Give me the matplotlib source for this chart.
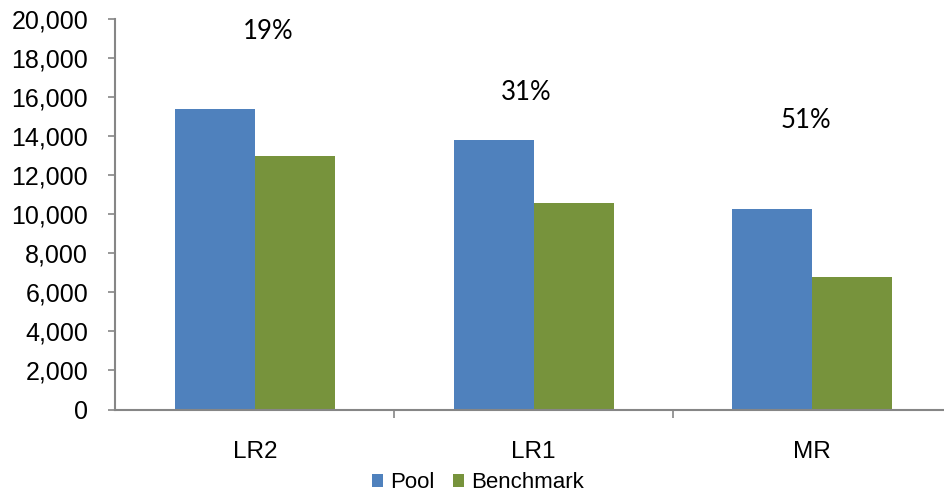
import matplotlib
matplotlib.use("Agg")
import matplotlib.pyplot as plt
import numpy as np
from matplotlib.patches import Patch

categories = ["LR2", "LR1", "MR"]
pool = [15400, 13780, 10290]
benchmark = [12960, 10600, 6800]
pct_labels = ["19%", "31%", "51%"]
pct_label_x = [0.046, 0.972, 1.977]
pct_label_y = [19360, 16260, 14780]
y_ticks = list(range(0, 20001, 2000))

BLUE = "#4F81BD"
GREEN = "#77933C"
AXIS = "#868686"

fig = plt.figure(figsize=(9.44, 4.95), dpi=100)
ax = fig.add_axes([114.5 / 944, (495 - 409.5) / 495, 1 - 114.5 / 944, (409.5 - 19) / 495])

x = np.arange(len(categories))
w = 80 / 278.5
ax.bar(x - w / 2, pool, width=w, color=BLUE, edgecolor="none", label="Pool")
ax.bar(x + w / 2, benchmark, width=w, color=GREEN, edgecolor="none", label="Benchmark")

ax.set_xlim(-0.505, 2.474)
ax.set_ylim(0, 20000)

for s in ["top", "right"]:
    ax.spines[s].set_visible(False)
for s in ["left", "bottom"]:
    ax.spines[s].set_color(AXIS)
    ax.spines[s].set_linewidth(1.5)

ax.set_yticks(y_ticks)
ax.set_yticklabels([f"{v:,}" for v in y_ticks], fontfamily="Liberation Sans", fontsize=18)
ax.tick_params(axis="y", direction="out", length=5, width=1.2, color=AXIS, pad=14)

ax.set_xticks(x)
ax.set_xticklabels(categories, fontfamily="Liberation Sans", fontsize=17.5)
ax.set_xticks([0.5, 1.5], minor=True)
ax.tick_params(axis="x", which="major", length=0, pad=23)
ax.tick_params(axis="x", which="minor", direction="out", length=6, width=1.2, color=AXIS)

for lx, ly, t in zip(pct_label_x, pct_label_y, pct_labels):
    ax.text(lx, ly, t, ha="center", va="center", fontsize=18.5, fontfamily="Lato")

handles = [Patch(facecolor=BLUE, label="Pool"), Patch(facecolor=GREEN, label="Benchmark")]
fig.legend(handles=handles, loc="center", bbox_to_anchor=(478 / 944, 1 - 483 / 495),
           ncol=2, frameon=False, handlelength=0.5, handleheight=0.5,
           handletextpad=0.35, columnspacing=0.8,
           prop={"family": "Liberation Sans", "size": 16})

fig.savefig("out.png", dpi=100)
